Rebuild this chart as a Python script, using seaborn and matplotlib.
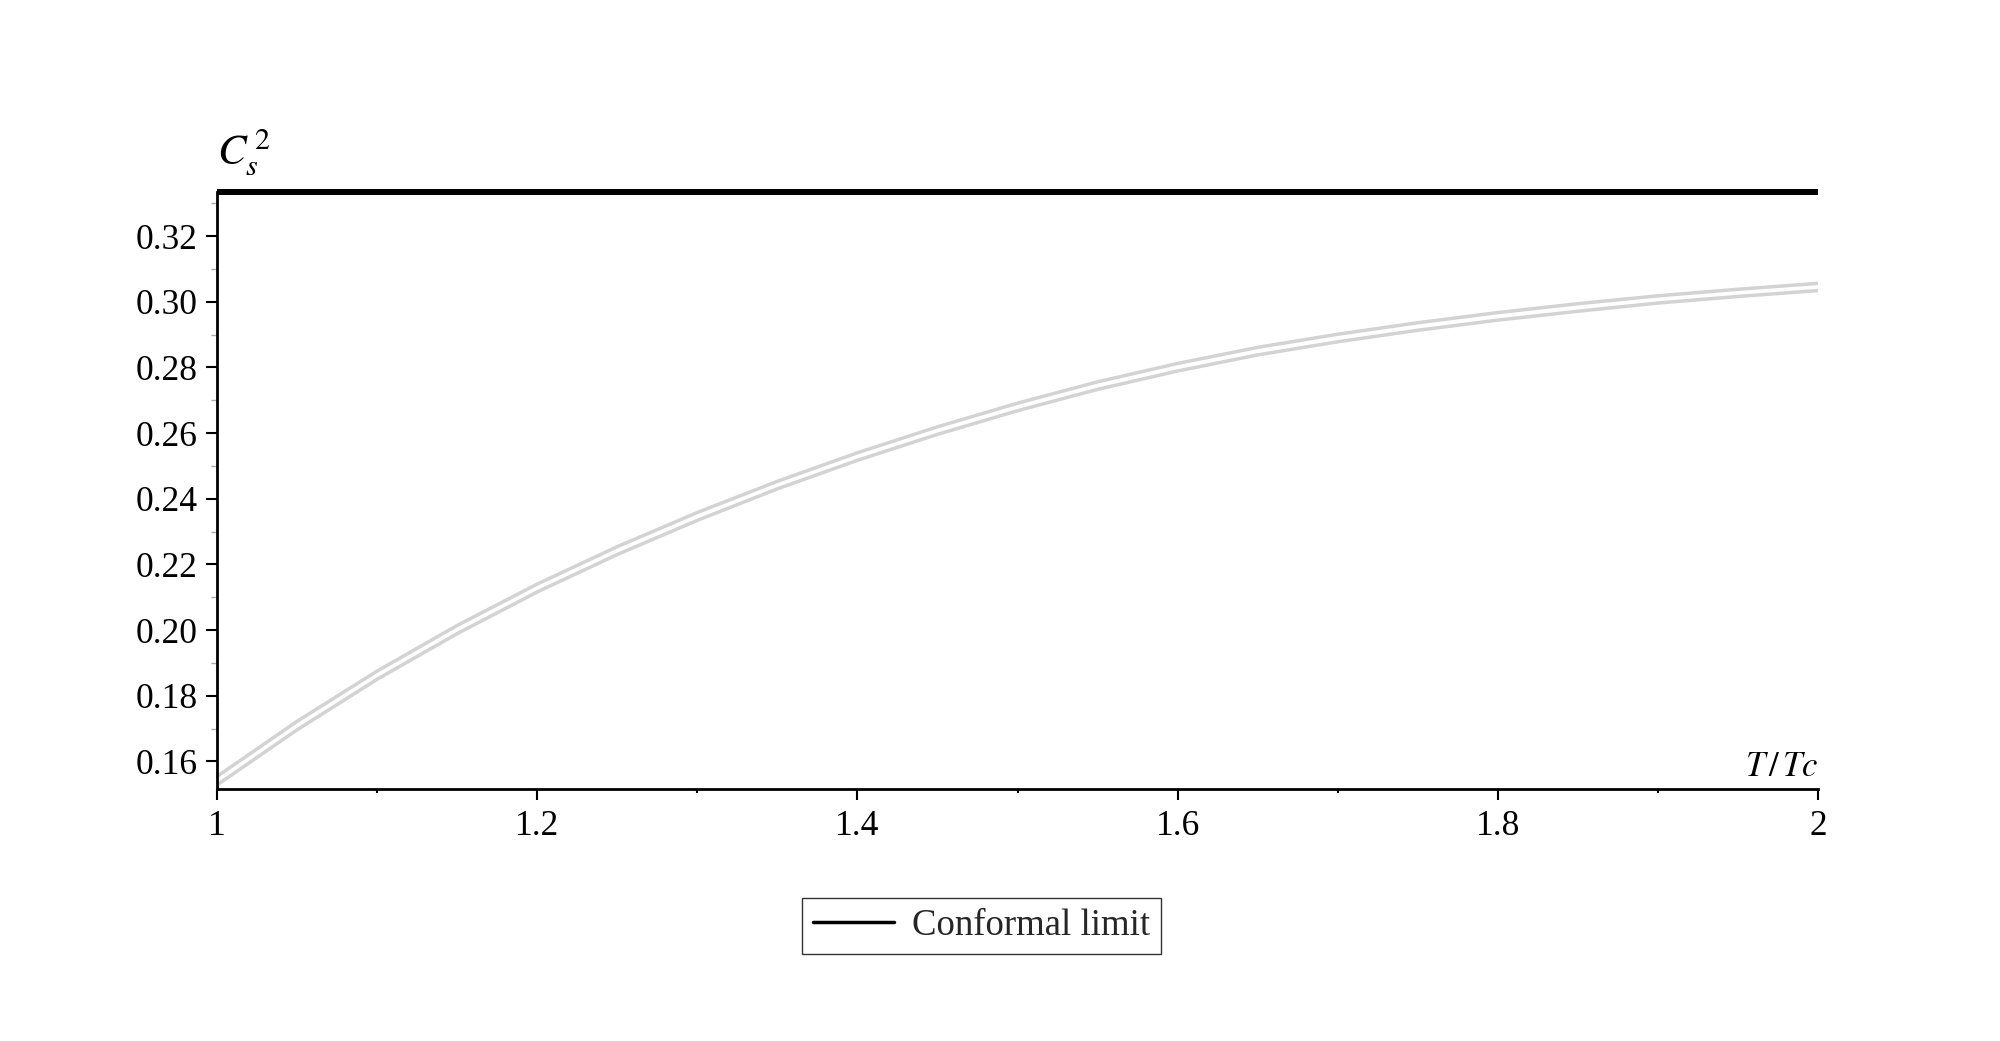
import matplotlib
matplotlib.use("Agg")
import matplotlib.pyplot as plt
import seaborn as sns
import pandas as pd
from matplotlib.lines import Line2D
from matplotlib.ticker import MultipleLocator, FixedLocator

# ---- data ----
t_values = [1.00, 1.05, 1.10, 1.15, 1.20, 1.25, 1.30, 1.35, 1.40, 1.45, 1.50,
            1.55, 1.60, 1.65, 1.70, 1.75, 1.80, 1.85, 1.90, 1.95, 2.00]
cs2_upper = [0.1554, 0.1722, 0.1875, 0.2014, 0.2140, 0.2254, 0.2358, 0.2453, 0.2540, 0.2619, 0.2691,
             0.2756, 0.2812, 0.2861, 0.2901, 0.2936, 0.2967, 0.2994, 0.3018, 0.3038, 0.3056]
cs2_lower = [0.1528, 0.1696, 0.1850, 0.1989, 0.2116, 0.2230, 0.2334, 0.2430, 0.2517, 0.2596, 0.2668,
             0.2733, 0.2789, 0.2838, 0.2878, 0.2913, 0.2944, 0.2971, 0.2996, 0.3016, 0.3034]
conformal_x = [1.0, 2.0]
conformal_y = [1/3, 1/3]
legend_label = "Conformal limit"
x_ticks = [1.0, 1.2, 1.4, 1.6, 1.8, 2.0]
x_tick_labels = ["1", "1.2", "1.4", "1.6", "1.8", "2"]
y_ticks = [0.16, 0.18, 0.20, 0.22, 0.24, 0.26, 0.28, 0.30, 0.32]
y_tick_labels = ["0.16", "0.18", "0.20", "0.22", "0.24", "0.26", "0.28", "0.30", "0.32"]

sns.set_style("white")
plt.rcParams['font.family'] = ['Liberation Serif', 'DejaVu Serif']
plt.rcParams['mathtext.fontset'] = 'stix'

fig = plt.figure(figsize=(20, 10.41), dpi=100)
ax = fig.add_axes([0.1085, 0.2418, 0.8005, 0.574])

df_up = pd.DataFrame({"t": t_values, "cs2": cs2_upper})
df_lo = pd.DataFrame({"t": t_values, "cs2": cs2_lower})
df_cf = pd.DataFrame({"t": conformal_x, "cs2": conformal_y})

sns.lineplot(data=df_up, x="t", y="cs2", ax=ax, color="#d3d3d3", lw=2.5, legend=False)
sns.lineplot(data=df_lo, x="t", y="cs2", ax=ax, color="#d3d3d3", lw=2.5, legend=False)
sns.lineplot(data=df_cf, x="t", y="cs2", ax=ax, color="black", lw=4.3, legend=False)
for ln in ax.lines:
    ln.set_clip_on(False)
    ln.set_solid_capstyle("butt")
    ln.set_solid_joinstyle("round")

ax.set_xlim(1.0, 2.0)
ax.set_ylim(0.1515, 0.3335)

for s in ["top", "right"]:
    ax.spines[s].set_visible(False)
for s in ["left", "bottom"]:
    ax.spines[s].set_color("black")
    ax.spines[s].set_linewidth(2.0)

ax.xaxis.set_major_locator(FixedLocator(x_ticks))
ax.set_xticklabels(x_tick_labels)
ax.yaxis.set_major_locator(FixedLocator(y_ticks))
ax.set_yticklabels(y_tick_labels)
ax.xaxis.set_minor_locator(MultipleLocator(0.1))
ax.yaxis.set_minor_locator(MultipleLocator(0.01))

ax.tick_params(which="both", bottom=True, left=True, top=False, right=False)
ax.tick_params(axis="both", which="major", direction="out", length=8, width=1.5,
               color="black", labelsize=25.5, labelcolor="black")
ax.tick_params(axis="x", which="major", pad=7)
ax.tick_params(axis="y", which="major", pad=6)
ax.tick_params(axis="x", which="minor", direction="out", length=3, width=1.5, color="black")
ax.tick_params(axis="y", which="minor", direction="out", length=4, width=1.0, color="#aaaaaa")

ax.set_xlabel("")
ax.set_ylabel("")
ax.annotate(r"$C_s^{\,2}$", xy=(1.0, 0.3335), xycoords="data", xytext=(0, 10),
            textcoords="offset points", fontsize=31, ha="left", va="bottom", color="black",
            annotation_clip=False)
ax.text(2.0, 0.1530, r"$T\,/\,Tc$", fontsize=25, ha="right", va="bottom", color="black")

handle = Line2D([0], [0], color="black", lw=2.5)
leg = fig.legend([handle], [legend_label], loc="center", bbox_to_anchor=(0.4908, 0.1105),
                 fontsize=26.5, frameon=True, fancybox=False, edgecolor="black",
                 handlelength=2.2, handletextpad=0.5, borderpad=0.3, borderaxespad=0)
leg.get_frame().set_linewidth(1.0)

fig.savefig("out.png", dpi=100, facecolor="white")
